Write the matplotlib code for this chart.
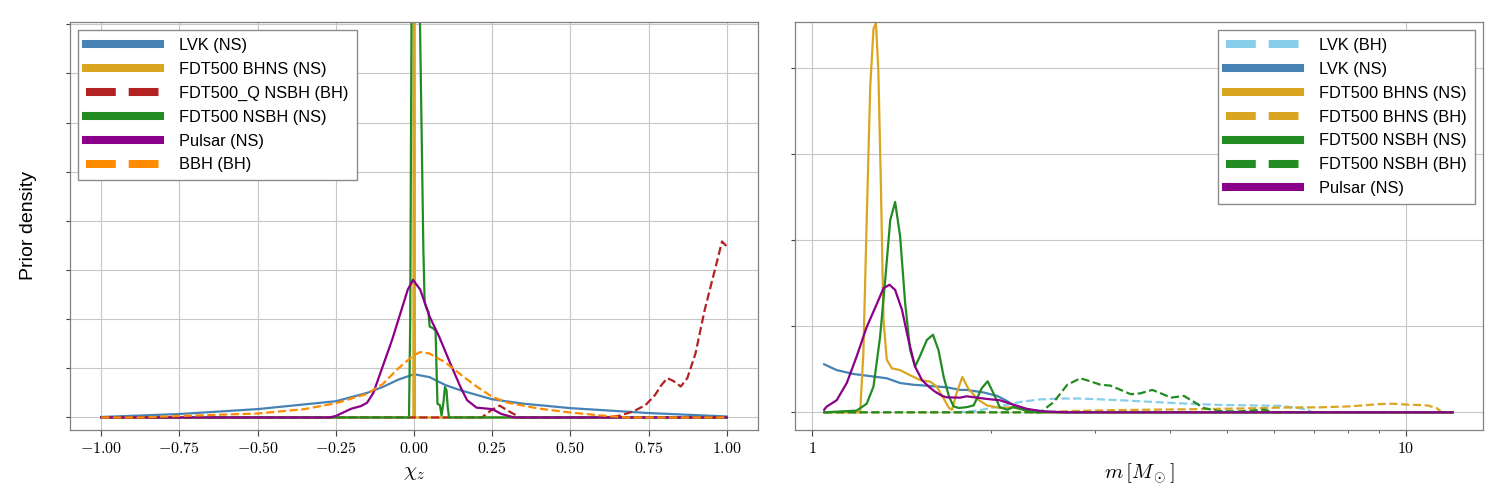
import matplotlib
matplotlib.use("Agg")
import matplotlib.pyplot as plt
from matplotlib.ticker import NullFormatter, LogLocator

plt.rcParams["mathtext.fontset"] = "cm"
plt.rcParams["font.family"] = ["Liberation Sans", "DejaVu Sans"]

# ---------------- spin panel (chi_z) ----------------
chi_lvk_ns = [-1.0, -0.75, -0.5, -0.25, -0.15, -0.1, -0.05, 0.0, 0.05, 0.1, 0.15, 0.2, 0.25, 0.35, 0.5, 0.75, 1.0]
p_lvk_ns_chi = [0.01, 0.07, 0.17, 0.33, 0.5, 0.62, 0.77, 0.88, 0.82, 0.66, 0.55, 0.46, 0.37, 0.28, 0.19, 0.09, 0.02]

chi_bhns_ns = [-1.0, -0.002, 0.0005, 0.003, 1.0]
p_bhns_ns_chi = [0.0, 0.0, 25.0, 0.0, 0.0]

chi_q_nsbh_bh = [-1.0, 0.217, 0.245, 0.274, 0.305, 0.339, 0.62, 0.66, 0.7, 0.74, 0.77, 0.79, 0.81,
                 0.83, 0.853, 0.874, 0.9, 0.93, 0.96, 0.985, 1.0]
p_q_nsbh_bh = [0.0, 0.0, 0.14, 0.24, 0.12, 0.0, 0.0, 0.04, 0.12, 0.25, 0.45, 0.65, 0.8,
               0.74, 0.63, 0.8, 1.3, 2.2, 2.95, 3.58, 3.48]

chi_nsbh_ns = [-1.0, -0.016, -0.012, -0.008, 0.0, 0.01, 0.019, 0.03, 0.034, 0.04, 0.046, 0.05, 0.062,
               0.069, 0.072, 0.075, 0.083, 0.088, 0.094, 0.099, 0.104, 0.108, 0.112, 1.0]
p_nsbh_ns_chi = [0.0, 0.0, 2.0, 8.1, 14.0, 14.0, 8.1, 3.4, 2.35, 2.22, 2.15, 1.85, 1.81,
                 1.76, 1.0, 0.28, 0.25, 0.04, 0.3, 0.62, 0.55, 0.2, 0.0, 0.0]

chi_pulsar = [-1.0, -0.27, -0.25, -0.22, -0.2, -0.17, -0.15, -0.13, -0.1, -0.07, -0.04, -0.02, -0.003,
              0.02, 0.05, 0.08, 0.12, 0.15, 0.17, 0.2, 0.25, 0.28, 0.32, 1.0]
p_pulsar_chi = [0.0, 0.0, 0.03, 0.12, 0.18, 0.23, 0.3, 0.5, 1.04, 1.58, 2.19, 2.6, 2.8,
                2.6, 2.05, 1.65, 1.04, 0.6, 0.35, 0.2, 0.17, 0.07, 0.0, 0.0]

chi_bbh = [-1.0, -0.87, -0.75, -0.5, -0.35, -0.25, -0.15, -0.1, -0.05, 0.0, 0.02, 0.05, 0.1, 0.15,
           0.2, 0.25, 0.3, 0.4, 0.5, 0.6, 0.68, 1.0]
p_bbh = [0.0, 0.0, 0.03, 0.08, 0.17, 0.29, 0.48, 0.68, 1.0, 1.27, 1.33, 1.3, 1.12, 0.87,
         0.63, 0.42, 0.3, 0.18, 0.1, 0.04, 0.0, 0.0]

# ---------------- mass panel (m) ----------------
m_lvk_bh = [1.75, 1.9, 2.07, 2.24, 2.42, 2.62, 2.83, 3.06, 3.31, 3.76, 4.29, 4.88, 5.55, 6.16, 6.58, 6.84, 6.95]
p_lvk_bh = [0.0, 0.02, 0.07, 0.12, 0.15, 0.16, 0.16, 0.15, 0.14, 0.12, 0.1, 0.085, 0.08, 0.075, 0.05, 0.03, 0.0]

m_lvk_ns = [1.047, 1.099, 1.173, 1.252, 1.335, 1.406, 1.48, 1.58, 1.686, 1.775, 1.82, 1.945, 2.05,
            2.13, 2.21, 2.36, 2.6, 12.0]
p_lvk_ns_m = [0.557, 0.49, 0.445, 0.42, 0.395, 0.34, 0.32, 0.306, 0.29, 0.26, 0.26, 0.23, 0.19,
              0.13, 0.06, 0.02, 0.0, 0.0]

m_bhns_ns = [1.047, 1.204, 1.219, 1.235, 1.252, 1.268, 1.28, 1.292, 1.305, 1.318, 1.335, 1.362, 1.406,
             1.462, 1.52, 1.58, 1.62, 1.665, 1.70, 1.72, 1.75, 1.79, 1.83, 1.90, 1.97, 2.07, 2.18,
             2.30, 2.45, 12.0]
p_bhns_ns_m = [0.0, 0.0, 0.68, 2.23, 3.78, 4.45, 4.52, 3.97, 2.62, 1.07, 0.61, 0.51, 0.49,
               0.43, 0.375, 0.356, 0.3, 0.16, 0.05, 0.03, 0.22, 0.41, 0.28, 0.15, 0.08, 0.05, 0.06,
               0.02, 0.0, 0.0]

m_bhns_bh = [1.047, 2.45, 2.72, 3.31, 4.29, 5.55, 6.14, 7.22, 8.1, 9.0, 9.5, 10.05, 10.9, 11.3, 11.5, 12.0]
p_bhns_bh = [0.0, 0.0, 0.015, 0.027, 0.035, 0.047, 0.055, 0.058, 0.07, 0.095, 0.1, 0.09, 0.08, 0.045, 0.0, 0.0]

m_nsbh_ns = [1.047, 1.188, 1.235, 1.268, 1.301, 1.327, 1.353, 1.379, 1.406, 1.434, 1.462, 1.49, 1.518,
             1.56, 1.597, 1.632, 1.665, 1.70, 1.73, 1.765, 1.82, 1.87, 1.93, 1.975, 2.02, 2.07,
             2.13, 2.18, 2.24, 2.35, 12.0]
p_nsbh_ns_m = [0.0, 0.02, 0.1, 0.3, 0.88, 1.54, 2.23, 2.44, 2.04, 1.26, 0.72, 0.53, 0.65,
               0.84, 0.9, 0.72, 0.41, 0.18, 0.07, 0.05, 0.06, 0.08, 0.28, 0.36, 0.22, 0.06,
               0.03, 0.06, 0.04, 0.0, 0.0]

m_nsbh_bh = [1.047, 2.424, 2.552, 2.69, 2.83, 2.94, 3.06, 3.18, 3.31, 3.44, 3.57, 3.74, 3.87, 4.02,
             4.23, 4.4, 4.57, 4.82, 5.2, 5.78, 6.0, 12.0]
p_nsbh_bh = [0.0, 0.0, 0.12, 0.32, 0.395, 0.36, 0.32, 0.31, 0.26, 0.21, 0.22, 0.26, 0.22, 0.17,
             0.19, 0.12, 0.05, 0.015, 0.01, 0.03, 0.0, 0.0]

m_pulsar = [1.047, 1.057, 1.099, 1.143, 1.188, 1.235, 1.285, 1.318, 1.349, 1.379, 1.416, 1.452, 1.49,
            1.53, 1.57, 1.61, 1.655, 1.686, 1.775, 1.82, 1.97, 2.07, 2.18, 2.3, 2.45, 2.7, 12.0]
p_pulsar_m = [0.03, 0.066, 0.14, 0.34, 0.65, 0.99, 1.26, 1.44, 1.48, 1.42, 1.19, 0.84, 0.53,
              0.375, 0.3, 0.24, 0.19, 0.174, 0.17, 0.186, 0.155, 0.14, 0.09, 0.04, 0.01, 0.0, 0.0]

chi_ticks = [-1.0, -0.75, -0.5, -0.25, 0.0, 0.25, 0.5, 0.75, 1.0]
m_ticks = [1, 10]

LW = 1.6
fig = plt.figure(figsize=(15, 5), dpi=100)
ax1 = fig.add_axes([70 / 1500, 70 / 500, 688 / 1500, 408 / 500])
ax2 = fig.add_axes([795 / 1500, 70 / 500, 688 / 1500, 408 / 500])

ax1.plot(chi_lvk_ns, p_lvk_ns_chi, color="steelblue", lw=LW, label="LVK (NS)")
ax1.plot(chi_bhns_ns, p_bhns_ns_chi, color="goldenrod", lw=LW, label="FDT500 BHNS (NS)")
ax1.plot(chi_q_nsbh_bh, p_q_nsbh_bh, color="firebrick", lw=LW, ls="--", label="FDT500_Q NSBH (BH)")
ax1.plot(chi_nsbh_ns, p_nsbh_ns_chi, color="forestgreen", lw=LW, label="FDT500 NSBH (NS)")
ax1.plot(chi_pulsar, p_pulsar_chi, color="darkmagenta", lw=LW, label="Pulsar (NS)")
ax1.plot(chi_bbh, p_bbh, color="darkorange", lw=LW, ls="--", label="BBH (BH)")

ax2.plot(m_lvk_bh, p_lvk_bh, color="skyblue", lw=LW, ls="--", label="LVK (BH)")
ax2.plot(m_lvk_ns, p_lvk_ns_m, color="steelblue", lw=LW, label="LVK (NS)")
ax2.plot(m_bhns_ns, p_bhns_ns_m, color="goldenrod", lw=LW, label="FDT500 BHNS (NS)")
ax2.plot(m_bhns_bh, p_bhns_bh, color="goldenrod", lw=LW, ls="--", label="FDT500 BHNS (BH)")
ax2.plot(m_nsbh_ns, p_nsbh_ns_m, color="forestgreen", lw=LW, label="FDT500 NSBH (NS)")
ax2.plot(m_nsbh_bh, p_nsbh_bh, color="forestgreen", lw=LW, ls="--", label="FDT500 NSBH (BH)")
ax2.plot(m_pulsar, p_pulsar_m, color="darkmagenta", lw=LW, label="Pulsar (NS)")

ax1.set_xlim(-1.1, 1.1)
ax1.set_ylim(-0.255, 8.045)
ax1.set_yticks(range(0, 9))
ax1.set_xticks(chi_ticks)
ax1.set_xticklabels([f"${v:.2f}$" for v in chi_ticks])
ax1.set_xlabel(r"$\chi_z$", fontsize=15, labelpad=5)
ax1.set_ylabel("Prior density", fontsize=14, labelpad=17)

ax2.set_xscale("log")
ax2.set_xlim(0.935, 13.5)
ax2.set_ylim(-0.205, 4.528)
ax2.set_yticks(range(0, 5))
ax2.set_xticks(m_ticks)
ax2.set_xticklabels([f"${v}$" for v in m_ticks])
ax2.xaxis.set_minor_locator(LogLocator(base=10, subs=range(2, 10)))
ax2.xaxis.set_minor_formatter(NullFormatter())
ax2.set_xlabel(r"$m\,[M_\odot]$", fontsize=15, labelpad=4)

for ax in (ax1, ax2):
    ax.set_yticklabels([])
    ax.grid(True, which="major", color="0.78", lw=0.8)
    ax.set_axisbelow(True)
    ax.tick_params(axis="both", which="both", direction="out", color="0.25")
    ax.tick_params(axis="x", which="major", labelsize=11.5, length=4.5)
    ax.tick_params(axis="y", which="major", length=3)
    for s in ax.spines.values():
        s.set_color("0.5")
        s.set_linewidth(0.9)

leg_kw = dict(fontsize=11.8, handlelength=4.5, handletextpad=1.2, borderpad=0.48,
              labelspacing=0.54, fancybox=False, edgecolor="0.55", framealpha=1.0)
leg1 = ax1.legend(loc="upper left", **leg_kw)
leg2 = ax2.legend(loc="upper right", **leg_kw)
for leg in (leg1, leg2):
    for h in leg.legend_handles:
        h.set_linewidth(5.8)

fig.savefig("out.png", dpi=100)
